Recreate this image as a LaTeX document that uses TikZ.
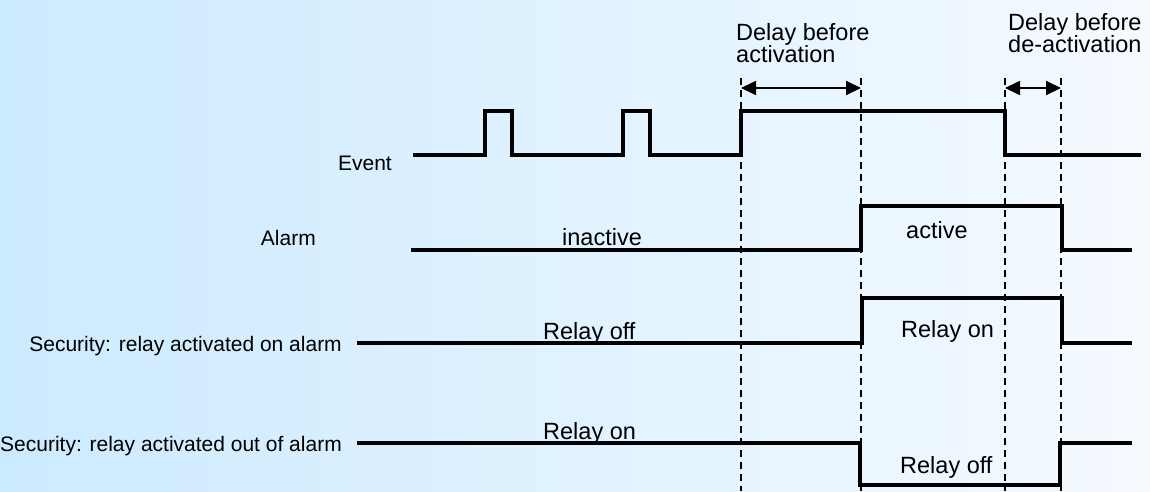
\documentclass[tikz,border=0pt]{standalone}
\usepackage{fontspec}
\setmainfont{Liberation Sans}
\usetikzlibrary{arrows.meta}
\definecolor{bgleft}{RGB}{204,234,255}
\definecolor{bgright}{RGB}{245,250,255}
\begin{document}
\begin{tikzpicture}[x=1pt,y=-1pt,
  sig/.style={line width=4.4pt, line join=miter, line cap=butt},
  guide/.style={line width=1.3pt, dash pattern=on 7pt off 5pt},
  span/.style={line width=2pt, {Triangle[length=15pt,width=14pt]}-{Triangle[length=15pt,width=14pt]}},
  rowlbl/.style={font=\fontsize{21}{24}\selectfont, inner sep=0pt, anchor=base east},
  statelbl/.style={font=\fontsize{23.5}{26}\selectfont, inner sep=0pt, anchor=base west},
  delaylbl/.style={font=\fontsize{23.5}{22}\selectfont, inner sep=0pt, anchor=north west, align=left}]

% background
\shade[left color=bgleft, right color=bgright] (0,0) rectangle (1150,491);
\useasboundingbox (0,0) rectangle (1150,491);

% timing guides
\foreach \n/\x in {a/741, b/861, c/1005, d/1061} {
  \coordinate (top\n) at (\x,78);
  \coordinate (bot\n) at (\x,491);
  \coordinate (arr\n) at (\x,88);
  \draw[guide] (top\n) -- (bot\n);
}

% delay spans
\draw[span] (arra) -- (arrb);
\draw[span] (arrc) -- (arrd);
\node[delaylbl] (dlyon) at (736,23) {Delay before\\activation};
\node[delaylbl] (dlyoff) at (1008,13) {Delay before\\de-activation};

% row labels
\node[rowlbl] (lblevent) at (392,170) {Event};
\node[rowlbl] (lblalarm) at (316,245) {Alarm};
\node[rowlbl] (lblon) at (342,351) {Security: relay activated on alarm};
\node[rowlbl] (lbloff) at (342,451) {Security: relay activated out of alarm};

% event signal
\draw[sig] (413,155) -- (485,155) -- (485,111) -- (512,111) -- (512,155)
  -- (623,155) -- (623,111) -- (650,111) -- (650,155)
  -- (741,155) -- (741,111) -- (1005,111) -- (1005,155) -- (1141,155);

% alarm state
\draw[sig] (411,250) -- (861,250) -- (861,206) -- (1062,206) -- (1062,250) -- (1132,250);
\node[statelbl] (sinactive) at (562,245) {inactive};
\node[statelbl] (sactive) at (906,238) {active};

% relay activated on alarm
\draw[sig] (357,343) -- (862,343) -- (862,298) -- (1062,298) -- (1062,343) -- (1132,343);
\node[statelbl] (srelayoff1) at (543,339) {Relay off};
\node[statelbl] (srelayon1) at (901,337) {Relay on};

% relay activated out of alarm
\draw[sig] (357,443) -- (860,443) -- (860,485) -- (1060,485) -- (1060,443) -- (1132,443);
\node[statelbl] (srelayon2) at (543,439) {Relay on};
\node[statelbl] (srelayoff2) at (900,473) {Relay off};
\end{tikzpicture}
\end{document}
